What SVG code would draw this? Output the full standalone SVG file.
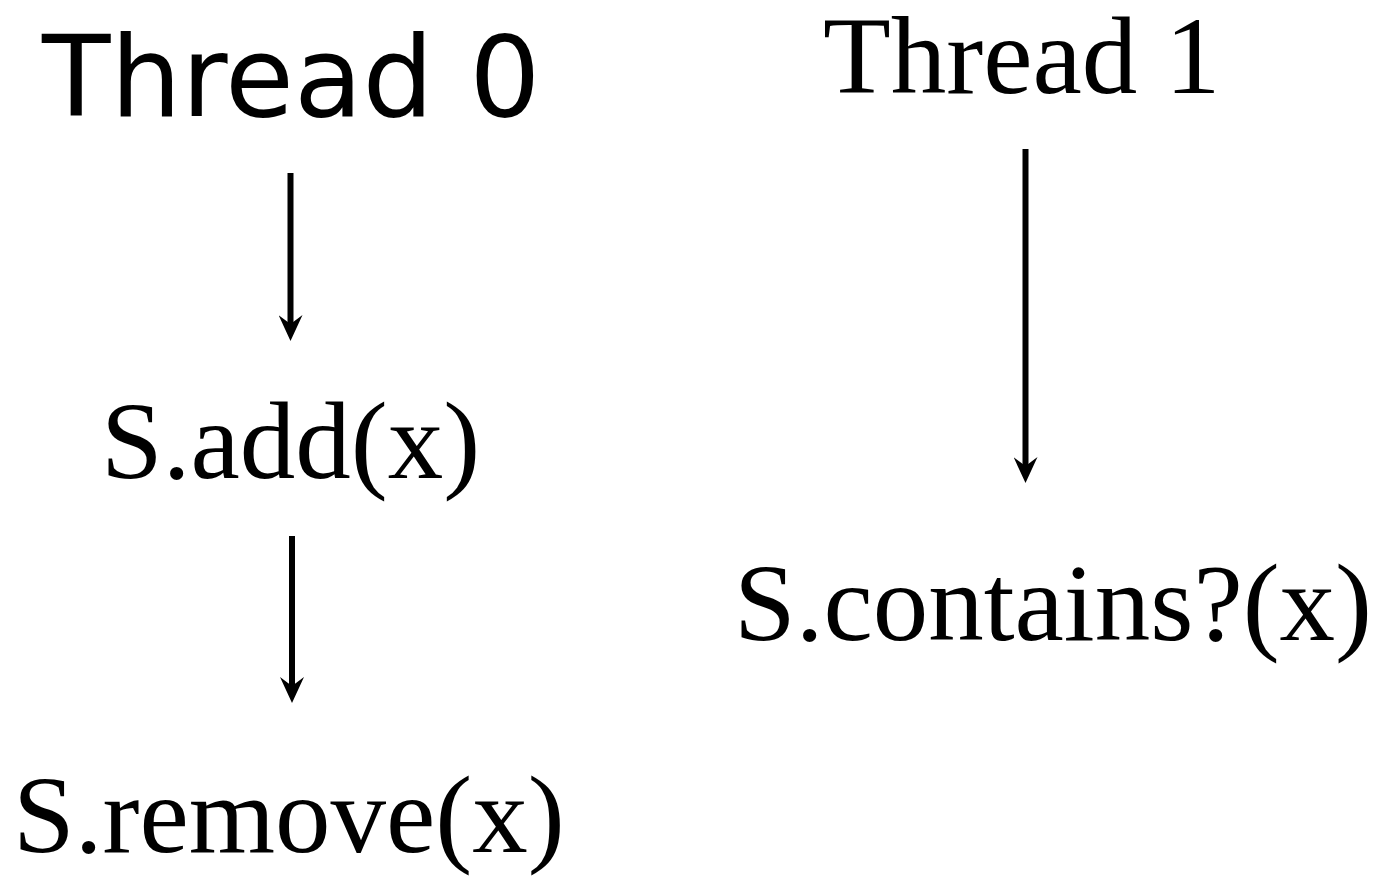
<svg xmlns="http://www.w3.org/2000/svg" width="1383" height="876" viewBox="0 0 1383 876">
<style>
.serif{font-family:"Liberation Serif","Times New Roman",serif;font-size:111px;fill:#000}
.sans{font-family:"DejaVu Sans",sans-serif;font-size:112px;fill:#000}
.edge{stroke:#000;stroke-width:6;fill:none}
</style>
<defs>
<marker id="arr" markerUnits="userSpaceOnUse" markerWidth="26" markerHeight="24" viewBox="0 0 26 24" refX="9" refY="12" orient="auto">
<path d="M0,0 L26,12 L0,24 L9,12 z" fill="#000"/>
</marker>
</defs>
<rect width="1383" height="876" fill="#fff"/>
<g id="thread0"><text class="sans" x="42" y="116">Thread 0</text></g>
<g id="thread1"><text class="serif" x="823" y="93">Thread 1</text></g>
<g id="add"><text class="serif" x="101" y="478">S.add(x)</text></g>
<g id="remove"><text class="serif" x="13" y="852">S.remove(x)</text></g>
<g id="contains"><text class="serif" x="734" y="640">S.contains?(x)</text></g>
<g id="connectors">
<line class="edge" x1="290.5" y1="173" x2="290.5" y2="324" marker-end="url(#arr)"/>
<line class="edge" x1="1025.5" y1="149" x2="1025.5" y2="466" marker-end="url(#arr)"/>
<line class="edge" x1="292" y1="536" x2="292" y2="686" marker-end="url(#arr)"/>
</g>
</svg>
